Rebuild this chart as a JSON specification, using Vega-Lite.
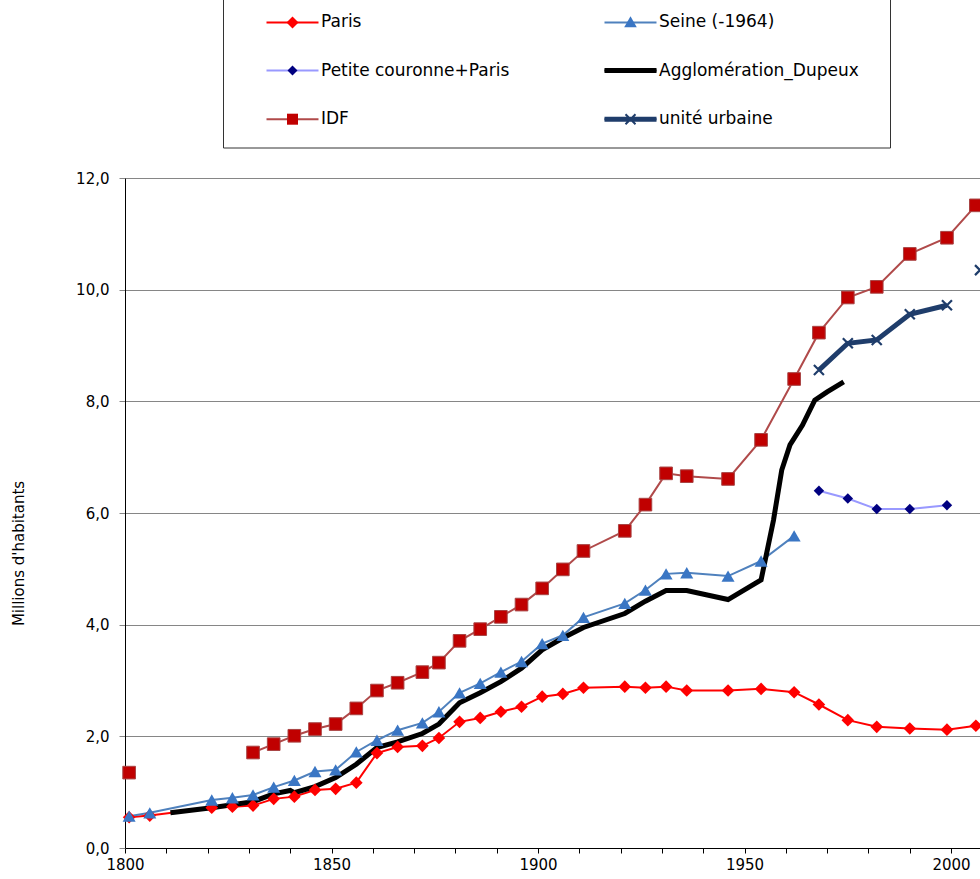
{
  "$schema": "https://vega.github.io/schema/vega-lite/v6.json",
  "width": 855,
  "height": 670,
  "autosize": {"type": "none"},
  "padding": {"left": 125, "top": 178, "right": 0, "bottom": 31},
  "background": "#ffffff",
  "config": {
    "view": {"stroke": null},
    "axis": {"labelFont": "DejaVu Sans", "labelFontSize": 15, "labelColor": "#000000", "titleFont": "DejaVu Sans", "titleFontSize": 15, "titleFontWeight": "normal", "titleColor": "#000000"},
    "legend": {"orient": "none", "legendX": 98, "legendY": -179.5, "columns": 2, "symbolSize": 441, "symbolStrokeWidth": 2, "labelFont": "DejaVu Sans", "labelFontSize": 17, "labelColor": "#000000", "labelOffset": 63, "labelLimit": 400, "rowPadding": 15.6, "columnPadding": 33, "padding": 12, "symbolOpacity": 1, "gridAlign": "each"}
  },
  "data": {"values": [
    {"series": "Paris", "year": 1801, "value": 0.55},
    {"series": "Paris", "year": 1806, "value": 0.58},
    {"series": "Paris", "year": 1821, "value": 0.72},
    {"series": "Paris", "year": 1826, "value": 0.74},
    {"series": "Paris", "year": 1831, "value": 0.76},
    {"series": "Paris", "year": 1836, "value": 0.88},
    {"series": "Paris", "year": 1841, "value": 0.92},
    {"series": "Paris", "year": 1846, "value": 1.04},
    {"series": "Paris", "year": 1851, "value": 1.06},
    {"series": "Paris", "year": 1856, "value": 1.17},
    {"series": "Paris", "year": 1861, "value": 1.70},
    {"series": "Paris", "year": 1866, "value": 1.81},
    {"series": "Paris", "year": 1872, "value": 1.83},
    {"series": "Paris", "year": 1876, "value": 1.97},
    {"series": "Paris", "year": 1881, "value": 2.26},
    {"series": "Paris", "year": 1886, "value": 2.33},
    {"series": "Paris", "year": 1891, "value": 2.44},
    {"series": "Paris", "year": 1896, "value": 2.53},
    {"series": "Paris", "year": 1901, "value": 2.71},
    {"series": "Paris", "year": 1906, "value": 2.76},
    {"series": "Paris", "year": 1911, "value": 2.87},
    {"series": "Paris", "year": 1921, "value": 2.89},
    {"series": "Paris", "year": 1926, "value": 2.87},
    {"series": "Paris", "year": 1931, "value": 2.89},
    {"series": "Paris", "year": 1936, "value": 2.82},
    {"series": "Paris", "year": 1946, "value": 2.82},
    {"series": "Paris", "year": 1954, "value": 2.85},
    {"series": "Paris", "year": 1962, "value": 2.79},
    {"series": "Paris", "year": 1968, "value": 2.57},
    {"series": "Paris", "year": 1975, "value": 2.29},
    {"series": "Paris", "year": 1982, "value": 2.17},
    {"series": "Paris", "year": 1990, "value": 2.14},
    {"series": "Paris", "year": 1999, "value": 2.12},
    {"series": "Paris", "year": 2006, "value": 2.19},
    {"series": "Seine (-1964)", "year": 1801, "value": 0.57},
    {"series": "Seine (-1964)", "year": 1806, "value": 0.63},
    {"series": "Seine (-1964)", "year": 1821, "value": 0.86},
    {"series": "Seine (-1964)", "year": 1826, "value": 0.90},
    {"series": "Seine (-1964)", "year": 1831, "value": 0.95},
    {"series": "Seine (-1964)", "year": 1836, "value": 1.09},
    {"series": "Seine (-1964)", "year": 1841, "value": 1.21},
    {"series": "Seine (-1964)", "year": 1846, "value": 1.37},
    {"series": "Seine (-1964)", "year": 1851, "value": 1.40},
    {"series": "Seine (-1964)", "year": 1856, "value": 1.72},
    {"series": "Seine (-1964)", "year": 1861, "value": 1.93},
    {"series": "Seine (-1964)", "year": 1866, "value": 2.11},
    {"series": "Seine (-1964)", "year": 1872, "value": 2.24},
    {"series": "Seine (-1964)", "year": 1876, "value": 2.44},
    {"series": "Seine (-1964)", "year": 1881, "value": 2.78},
    {"series": "Seine (-1964)", "year": 1886, "value": 2.95},
    {"series": "Seine (-1964)", "year": 1891, "value": 3.15},
    {"series": "Seine (-1964)", "year": 1896, "value": 3.34},
    {"series": "Seine (-1964)", "year": 1901, "value": 3.66},
    {"series": "Seine (-1964)", "year": 1906, "value": 3.81},
    {"series": "Seine (-1964)", "year": 1911, "value": 4.13},
    {"series": "Seine (-1964)", "year": 1921, "value": 4.38},
    {"series": "Seine (-1964)", "year": 1926, "value": 4.62},
    {"series": "Seine (-1964)", "year": 1931, "value": 4.91},
    {"series": "Seine (-1964)", "year": 1936, "value": 4.93},
    {"series": "Seine (-1964)", "year": 1946, "value": 4.87},
    {"series": "Seine (-1964)", "year": 1954, "value": 5.14},
    {"series": "Seine (-1964)", "year": 1962, "value": 5.59},
    {"series": "Petite couronne+Paris", "year": 1968, "value": 6.40},
    {"series": "Petite couronne+Paris", "year": 1975, "value": 6.26},
    {"series": "Petite couronne+Paris", "year": 1982, "value": 6.07},
    {"series": "Petite couronne+Paris", "year": 1990, "value": 6.07},
    {"series": "Petite couronne+Paris", "year": 1999, "value": 6.14},
    {"series": "Agglomération_Dupeux", "year": 1811, "value": 0.63},
    {"series": "Agglomération_Dupeux", "year": 1821, "value": 0.72},
    {"series": "Agglomération_Dupeux", "year": 1831, "value": 0.83},
    {"series": "Agglomération_Dupeux", "year": 1836, "value": 0.97},
    {"series": "Agglomération_Dupeux", "year": 1840, "value": 1.03},
    {"series": "Agglomération_Dupeux", "year": 1841, "value": 0.99},
    {"series": "Agglomération_Dupeux", "year": 1846, "value": 1.10},
    {"series": "Agglomération_Dupeux", "year": 1851, "value": 1.26},
    {"series": "Agglomération_Dupeux", "year": 1856, "value": 1.50},
    {"series": "Agglomération_Dupeux", "year": 1861, "value": 1.80},
    {"series": "Agglomération_Dupeux", "year": 1866, "value": 1.90},
    {"series": "Agglomération_Dupeux", "year": 1872, "value": 2.05},
    {"series": "Agglomération_Dupeux", "year": 1876, "value": 2.22},
    {"series": "Agglomération_Dupeux", "year": 1881, "value": 2.60},
    {"series": "Agglomération_Dupeux", "year": 1886, "value": 2.78},
    {"series": "Agglomération_Dupeux", "year": 1891, "value": 2.98},
    {"series": "Agglomération_Dupeux", "year": 1896, "value": 3.22},
    {"series": "Agglomération_Dupeux", "year": 1901, "value": 3.55},
    {"series": "Agglomération_Dupeux", "year": 1906, "value": 3.76},
    {"series": "Agglomération_Dupeux", "year": 1911, "value": 3.95},
    {"series": "Agglomération_Dupeux", "year": 1921, "value": 4.20},
    {"series": "Agglomération_Dupeux", "year": 1926, "value": 4.42},
    {"series": "Agglomération_Dupeux", "year": 1931, "value": 4.61},
    {"series": "Agglomération_Dupeux", "year": 1936, "value": 4.61},
    {"series": "Agglomération_Dupeux", "year": 1946, "value": 4.45},
    {"series": "Agglomération_Dupeux", "year": 1954, "value": 4.80},
    {"series": "Agglomération_Dupeux", "year": 1957, "value": 5.87},
    {"series": "Agglomération_Dupeux", "year": 1959, "value": 6.77},
    {"series": "Agglomération_Dupeux", "year": 1961, "value": 7.22},
    {"series": "Agglomération_Dupeux", "year": 1964, "value": 7.57},
    {"series": "Agglomération_Dupeux", "year": 1967, "value": 8.02},
    {"series": "Agglomération_Dupeux", "year": 1970, "value": 8.17},
    {"series": "Agglomération_Dupeux", "year": 1974, "value": 8.35},
    {"series": "IDF", "year": 1801, "value": 1.35},
    {"series": "IDF", "year": 1816, "value": null},
    {"series": "IDF", "year": 1831, "value": 1.71},
    {"series": "IDF", "year": 1836, "value": 1.86},
    {"series": "IDF", "year": 1841, "value": 2.01},
    {"series": "IDF", "year": 1846, "value": 2.13},
    {"series": "IDF", "year": 1851, "value": 2.22},
    {"series": "IDF", "year": 1856, "value": 2.50},
    {"series": "IDF", "year": 1861, "value": 2.82},
    {"series": "IDF", "year": 1866, "value": 2.96},
    {"series": "IDF", "year": 1872, "value": 3.15},
    {"series": "IDF", "year": 1876, "value": 3.32},
    {"series": "IDF", "year": 1881, "value": 3.71},
    {"series": "IDF", "year": 1886, "value": 3.92},
    {"series": "IDF", "year": 1891, "value": 4.14},
    {"series": "IDF", "year": 1896, "value": 4.36},
    {"series": "IDF", "year": 1901, "value": 4.65},
    {"series": "IDF", "year": 1906, "value": 4.99},
    {"series": "IDF", "year": 1911, "value": 5.32},
    {"series": "IDF", "year": 1921, "value": 5.68},
    {"series": "IDF", "year": 1926, "value": 6.15},
    {"series": "IDF", "year": 1931, "value": 6.71},
    {"series": "IDF", "year": 1936, "value": 6.66},
    {"series": "IDF", "year": 1946, "value": 6.61},
    {"series": "IDF", "year": 1954, "value": 7.31},
    {"series": "IDF", "year": 1962, "value": 8.40},
    {"series": "IDF", "year": 1968, "value": 9.23},
    {"series": "IDF", "year": 1975, "value": 9.86},
    {"series": "IDF", "year": 1982, "value": 10.05},
    {"series": "IDF", "year": 1990, "value": 10.64},
    {"series": "IDF", "year": 1999, "value": 10.93},
    {"series": "IDF", "year": 2006, "value": 11.51},
    {"series": "unité urbaine", "year": 1968, "value": 8.56},
    {"series": "unité urbaine", "year": 1975, "value": 9.04},
    {"series": "unité urbaine", "year": 1982, "value": 9.10},
    {"series": "unité urbaine", "year": 1990, "value": 9.56},
    {"series": "unité urbaine", "year": 1999, "value": 9.72},
    {"series": "unité urbaine", "year": 2003, "value": null},
    {"series": "unité urbaine", "year": 2007, "value": 10.35}
  ]},
  "encoding": {
    "x": {"field": "year", "type": "quantitative", "scale": {"domain": [1800, 2007], "nice": false, "zero": false},
      "axis": {"title": null, "values": [1800, 1810, 1820, 1830, 1840, 1850, 1860, 1870, 1880, 1890, 1900, 1910, 1920, 1930, 1940, 1950, 1960, 1970, 1980, 1990, 2000], "format": "d", "labelExpr": "datum.value % 50 === 0 ? datum.label : ''", "grid": false, "domainColor": "#000000", "tickColor": "#000000", "tickSize": 5, "labelPadding": 4, "labelFlush": false, "labelOverlap": false}},
    "y": {"field": "value", "type": "quantitative", "scale": {"domain": [0, 12], "nice": false},
      "axis": {"title": "Millions d'habitants", "values": [0, 2, 4, 6, 8, 10, 12], "labelExpr": "replace(format(datum.value, '.1f'), '.', ',')", "grid": true, "gridColor": "#868686", "gridWidth": 1, "domainColor": "#000000", "tickColor": "#868686", "tickSize": 6, "labelPadding": 10, "titleX": -107, "titleY": 375, "titleAngle": 270, "titleAlign": "center", "titleBaseline": "middle"}}
  },
  "layer": [
    {
      "transform": [{"filter": "datum.series !== 'Agglomération_Dupeux' && datum.series !== 'unité urbaine'"}],
      "mark": {"type": "line", "strokeWidth": 2, "invalid": "break-paths-show-domains"},
      "encoding": {
        "color": {"field": "series", "type": "nominal",
          "scale": {"domain": ["Paris", "Petite couronne+Paris", "IDF", "Seine (-1964)", "Agglomération_Dupeux", "unité urbaine"], "range": ["#ff0000", "#9999ff", "#b04a4a", "#4f81bd", "#000000", "#1f3d6b"]},
          "legend": {"title": null, "symbolType": "M0,-1.1M0,1.1M27.5,0M1.905,0L6.857,0", "strokeColor": "#333333"}}
      }
    },
    {
      "transform": [{"filter": "datum.series === 'Agglomération_Dupeux' || datum.series === 'unité urbaine'"}],
      "mark": {"type": "line", "strokeWidth": 5, "invalid": "break-paths-show-domains"},
      "encoding": {
        "color": {"field": "series", "type": "nominal"}
      }
    },
    {
      "transform": [{"filter": "datum.series !== 'Agglomération_Dupeux' && datum.value != null"}],
      "mark": {"type": "point", "filled": true, "opacity": 1},
      "encoding": {
        "shape": {"condition": [{"test": "datum.series === 'Seine (-1964)'", "value": "triangle-up"}, {"test": "datum.series === 'IDF'", "value": "square"}, {"test": "datum.series === 'unité urbaine'", "value": "M-1,-1L1,1M-1,1L1,-1"}], "value": "diamond"},
        "fill": {"condition": [{"test": "datum.series === 'Paris'", "value": "#ff0000"}, {"test": "datum.series === 'Seine (-1964)'", "value": "#3a76c4"}, {"test": "datum.series === 'Petite couronne+Paris'", "value": "#000080"}, {"test": "datum.series === 'IDF'", "value": "#c00000"}], "value": "transparent"},
        "size": {"condition": [{"test": "datum.series === 'Seine (-1964)'", "value": 170}, {"test": "datum.series === 'Petite couronne+Paris'", "value": 110}, {"test": "datum.series === 'unité urbaine'", "value": 100}], "value": 160},
        "stroke": {"condition": [{"test": "datum.series === 'IDF'", "value": "#a84343"}, {"test": "datum.series === 'unité urbaine'", "value": "#1f3d6b"}], "value": "transparent"},
        "strokeWidth": {"condition": [{"test": "datum.series === 'IDF'", "value": 1}, {"test": "datum.series === 'unité urbaine'", "value": 2.2}], "value": 0}
      }
    },
    {
      "transform": [{"filter": "false"}],
      "mark": {"type": "point", "filled": true},
      "encoding": {
        "fill": {"field": "series", "type": "nominal",
          "scale": {"domain": ["Paris", "Seine (-1964)", "Petite couronne+Paris", "Agglomération_Dupeux", "IDF", "unité urbaine"], "range": ["#ff0000", "#3a76c4", "#000080", "#000000", "#c00000", "#1f3d6b"]},
          "legend": {"title": null, "values": ["Paris", "Petite couronne+Paris", "IDF", "Seine (-1964)", "Agglomération_Dupeux", "unité urbaine"], "labelExpr": "''", "symbolStrokeColor": "transparent"}},
        "shape": {"field": "series", "type": "nominal",
          "scale": {"domain": ["Paris", "Seine (-1964)", "Petite couronne+Paris", "Agglomération_Dupeux", "IDF", "unité urbaine"], "range": [
            "M0,-1.1M0,1.1M27.5,0M4.381,-0.571L4.952,0L4.381,0.571L3.81,0Z",
            "M0,-1.1M0,1.1M27.5,0M4.381,-0.6L4.981,0.45L3.781,0.45Z",
            "M0,-1.1M0,1.1M27.5,0M4.381,-0.476L4.857,0L4.381,0.476L3.905,0Z",
            "M0,-1.1M0,1.1M27.5,0M1.905,-0.238L6.857,-0.238L6.857,0.238L1.905,0.238Z",
            "M0,-1.1M0,1.1M27.5,0M3.857,-0.524L4.905,-0.524L4.905,0.524L3.857,0.524Z",
            "M0,-1.1M0,1.1M27.5,0M1.905,-0.238L6.857,-0.238L6.857,0.238L1.905,0.238ZM3.972,-0.543L4.924,0.409L4.79,0.543L3.838,-0.409ZM3.838,0.409L4.79,-0.543L4.924,-0.409L3.972,0.543Z"
          ]},
          "legend": {"title": null, "values": ["Paris", "Petite couronne+Paris", "IDF", "Seine (-1964)", "Agglomération_Dupeux", "unité urbaine"], "labelExpr": "''", "symbolStrokeColor": "transparent"}}
      }
    }
  ]
}
